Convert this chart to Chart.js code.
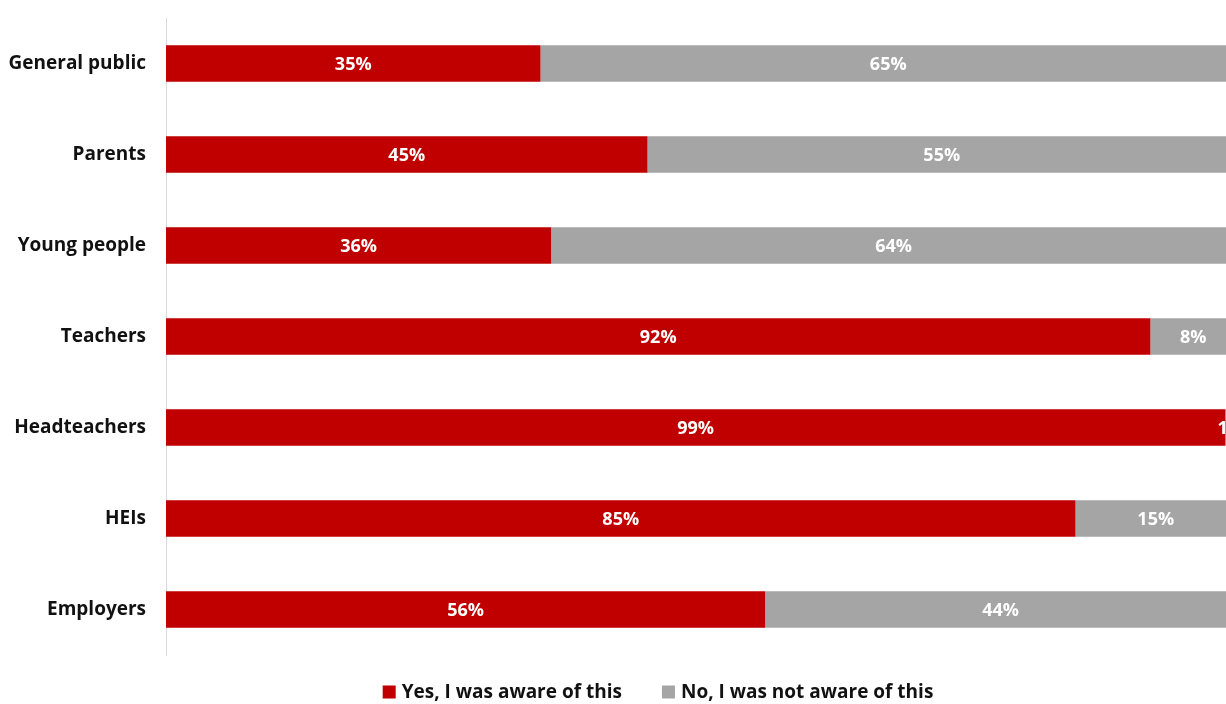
<!DOCTYPE html>
<html>
<head>
<meta charset="utf-8">
<script src="https://cdn.jsdelivr.net/npm/chart.js@4.4.1/dist/chart.umd.min.js"></script>
<style>
  html, body { margin: 0; padding: 0; background: #fff; overflow: hidden; }
  #wrap { position: relative; width: 1236px; height: 704px; }
</style>
</head>
<body>
<div id="wrap"><canvas id="chart"></canvas></div>
<script>
// Awareness by stakeholder group — 100% stacked horizontal bars
const groups = ['General public', 'Parents', 'Young people', 'Teachers', 'Headteachers', 'HEIs', 'Employers'];
const aware = [35, 45, 36, 92, 99, 85, 56];
const notAware = [65, 55, 64, 8, 1, 15, 44];
const seriesNames = ['Yes, I was aware of this', 'No, I was not aware of this'];

const RED = '#C00000';
const GREY = '#A5A5A5';
const FONT = "'Open Sans', 'Noto Sans', sans-serif";

// white percentage labels in the middle of every segment
const segmentLabels = {
  id: 'segmentLabels',
  afterDatasetsDraw(chart) {
    const ctx = chart.ctx;
    ctx.save();
    ctx.fillStyle = '#fff';
    ctx.font = 'bold 18px ' + FONT;
    ctx.textAlign = 'center';
    ctx.textBaseline = 'middle';
    chart.data.datasets.forEach((ds, i) => {
      chart.getDatasetMeta(i).data.forEach((bar, j) => {
        const p = bar.getProps(['x', 'y', 'base'], true);
        ctx.fillText(ds.data[j] + '%', (p.x + p.base) / 2, p.y + 1);
      });
    });
    ctx.restore();
  }
};

// legend row under the plot: square swatch + label, wide gap between entries
const bottomLegend = {
  id: 'bottomLegend',
  afterDraw(chart, args, opts) {
    const ctx = chart.ctx;
    const box = 13, gapText = 6, gapItem = 40;
    ctx.save();
    ctx.font = 'bold 19px ' + FONT;
    ctx.textBaseline = 'middle';
    const items = chart.data.datasets.map(ds => ({
      text: ds.label, color: ds.backgroundColor, w: ctx.measureText(ds.label).width
    }));
    const total = items.reduce((s, it) => s + box + gapText + it.w, 0) + gapItem * (items.length - 1);
    let x = opts.centerX - total / 2;
    const y = opts.y;
    items.forEach(it => {
      ctx.fillStyle = it.color;
      ctx.fillRect(x, y - box / 2, box, box);
      x += box + gapText;
      ctx.fillStyle = '#111';
      ctx.fillText(it.text, x, y + 1);
      x += it.w + gapItem;
    });
    ctx.restore();
  }
};

new Chart(document.getElementById('chart'), {
  type: 'bar',
  data: {
    labels: groups,
    datasets: [
      { label: seriesNames[0], data: aware, backgroundColor: RED },
      { label: seriesNames[1], data: notAware, backgroundColor: GREY }
    ]
  },
  options: {
    indexAxis: 'y',
    responsive: true,
    maintainAspectRatio: false,
    animation: false,
    layout: { padding: { top: 18, right: 0, left: 0, bottom: 49 } },
    datasets: { bar: { categoryPercentage: 1, barPercentage: 0.4 } },
    plugins: {
      legend: { display: false },
      tooltip: { enabled: false },
      bottomLegend: { centerX: 658, y: 692 }
    },
    scales: {
      x: { stacked: true, min: 0, max: 100, display: false },
      y: {
        stacked: true,
        afterFit(scale) {
          scale.width = 166;
          scale.paddingTop = 0;
          scale.paddingBottom = 0;
        },
        grid: { display: false, drawTicks: false },
        border: { display: true, color: '#D9D9D9' },
        ticks: { padding: 20, color: '#111', font: { family: FONT, size: 19, weight: 'bold' } }
      }
    }
  },
  plugins: [segmentLabels, bottomLegend]
});
</script>
</body>
</html>
